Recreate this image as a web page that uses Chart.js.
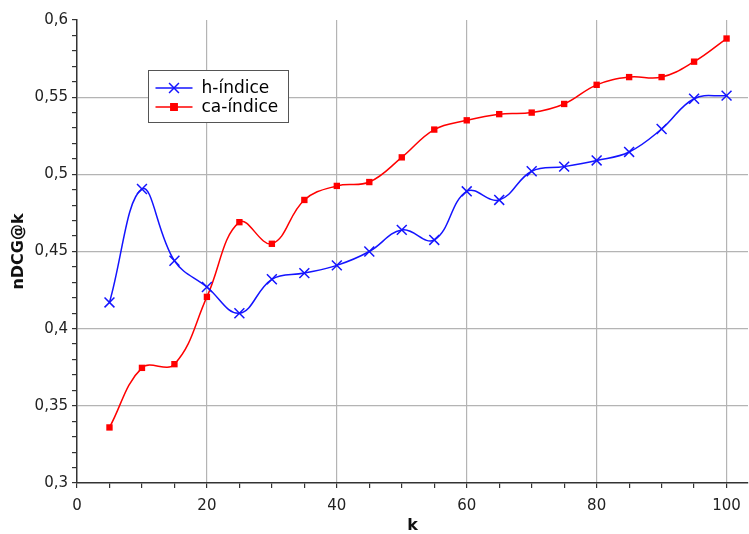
<!DOCTYPE html>
<html>
<head>
<meta charset="utf-8">
<script src="https://cdn.jsdelivr.net/npm/chart.js@4.4.0/dist/chart.umd.min.js"></script>
<style>
  html, body { margin: 0; padding: 0; background: #fff; }
  #wrap { width: 749px; height: 534px; }
</style>
</head>
<body>
<div id="wrap"><canvas id="chart-ndcg" width="749" height="534"></canvas></div>
<script>
// valores de k
var K_VALUES = [5, 10, 15, 20, 25, 30, 35, 40, 45, 50, 55, 60, 65, 70, 75, 80, 85, 90, 95, 100];

// nDCG@k por índice
var H_INDICE = [0.417, 0.4905, 0.444, 0.427, 0.410, 0.432, 0.436, 0.441, 0.450, 0.464,
                0.4575, 0.489, 0.4834, 0.502, 0.505, 0.509, 0.5145, 0.5294, 0.549, 0.551];
var CA_INDICE = [0.336, 0.3746, 0.377, 0.4206, 0.469, 0.455, 0.4834, 0.4925, 0.495, 0.511,
                 0.529, 0.535, 0.539, 0.540, 0.5456, 0.558, 0.563, 0.563, 0.573, 0.588];

var SERIES_LABELS = ['h-índice', 'ca-índice'];
var X_TITLE = 'k';
var Y_TITLE = 'nDCG@k';

var FONT = "'DejaVu Sans', sans-serif";
var GRID = '#b4b4b4';
var AXIS = '#333333';

function toPoints(values) {
    var pts = [];
    for (let i = 0; i < K_VALUES.length; i++) {
        pts.push({ x: K_VALUES[i], y: values[i] });
    }
    return pts;
}

function fmt(v) {
    return String(Math.round(v * 100) / 100).replace('.', ',');
}

// Legende im Diagramm
var legendBox = {
    id: 'legendBox',
    afterDatasetsDraw: function (chart) {
        var ctx = chart.ctx;
        var x = 148.5, y = 70.5, w = 140, h = 52;
        ctx.save();
        ctx.fillStyle = '#ffffff';
        ctx.fillRect(x, y, w, h);
        ctx.strokeStyle = '#555555';
        ctx.lineWidth = 1;
        ctx.strokeRect(x, y, w, h);
        chart.data.datasets.forEach(function (ds, i) {
            var cy = y + 17.5 + i * 19;
            ctx.strokeStyle = ds.borderColor;
            ctx.lineWidth = 1.5;
            ctx.beginPath();
            ctx.moveTo(x + 7, cy);
            ctx.lineTo(x + 44, cy);
            ctx.stroke();
            ctx.fillStyle = ds.backgroundColor;
            Chart.helpers.drawPoint(ctx, {
                pointStyle: ds.pointStyle,
                radius: ds.pointRadius,
                borderWidth: ds.pointBorderWidth || 1.5
            }, x + 25.5, cy);
            ctx.fillStyle = '#000000';
            ctx.font = '17px ' + FONT;
            ctx.textBaseline = 'middle';
            ctx.fillText(ds.label, x + 53, cy + 1);
        });
        ctx.restore();
    }
};

var ctx = document.getElementById('chart-ndcg').getContext('2d');
var chartNdcg = new Chart(ctx, {
    type: 'line',
    data: {
        datasets: [{
            label: SERIES_LABELS[0],
            data: toPoints(H_INDICE),
            borderColor: '#1414ff',
            backgroundColor: '#1414ff',
            borderWidth: 1.5,
            pointStyle: 'crossRot',
            pointRadius: 7,
            pointBorderWidth: 1.5,
            pointHoverRadius: 7,
            tension: 0.4,
            fill: false
        }, {
            label: SERIES_LABELS[1],
            data: toPoints(CA_INDICE),
            borderColor: '#ff0000',
            backgroundColor: '#ff0000',
            borderWidth: 1.5,
            pointStyle: 'rect',
            pointRadius: 4.5,
            pointBorderWidth: 0,
            pointHoverRadius: 4.5,
            tension: 0.4,
            fill: false
        }]
    },
    options: {
        responsive: false,
        animation: false,
        layout: { autoPadding: false, padding: { top: 20, right: 1, left: 0, bottom: 0 } },
        plugins: {
            legend: { display: false },
            tooltip: { enabled: false }
        },
        scales: {
            x: {
                type: 'linear',
                min: 0,
                max: 103.3,
                afterFit: function (scale) {
                    scale.height = 51;
                    scale.paddingRight = 0;
                },
                border: { color: AXIS, width: 1.5 },
                grid: {
                    color: function (c) {
                        var v = c.tick ? c.tick.value : 0;
                        return (v % 20 === 0 && v !== 0) ? GRID : 'rgba(0,0,0,0)';
                    },
                    tickColor: AXIS,
                    tickLength: 5,
                    lineWidth: 1.2
                },
                ticks: {
                    stepSize: 5,
                    includeBounds: false,
                    autoSkip: false,
                    maxRotation: 0,
                    color: '#222',
                    font: { family: FONT, size: 15 },
                    padding: 9,
                    callback: function (v) { return v % 20 === 0 ? String(v) : ''; }
                },
                title: {
                    display: true,
                    text: X_TITLE,
                    color: '#111',
                    font: { family: FONT, size: 16, weight: 'bold', lineHeight: 1.0 },
                    padding: { top: 0, bottom: 0 }
                }
            },
            y: {
                type: 'linear',
                min: 0.3,
                max: 0.6,
                afterFit: function (scale) { scale.width = 77; },
                border: { color: AXIS, width: 1.5 },
                grid: {
                    color: function (c) {
                        var v = c.tick ? Math.round(c.tick.value * 100) : 0;
                        return (v % 5 === 0 && v !== 30 && v !== 60) ? GRID : 'rgba(0,0,0,0)';
                    },
                    tickColor: AXIS,
                    tickLength: 5,
                    lineWidth: 1.2
                },
                ticks: {
                    stepSize: 0.01,
                    autoSkip: false,
                    color: '#222',
                    font: { family: FONT, size: 15 },
                    padding: 4,
                    callback: function (v) {
                        var r = Math.round(v * 100);
                        return r % 5 === 0 ? fmt(v) : '';
                    }
                },
                title: {
                    display: true,
                    text: Y_TITLE,
                    color: '#111',
                    font: { family: FONT, size: 16, weight: 'bold' },
                    padding: { top: 9, bottom: 0 }
                }
            }
        }
    },
    plugins: [legendBox]
});
</script>
</body>
</html>
